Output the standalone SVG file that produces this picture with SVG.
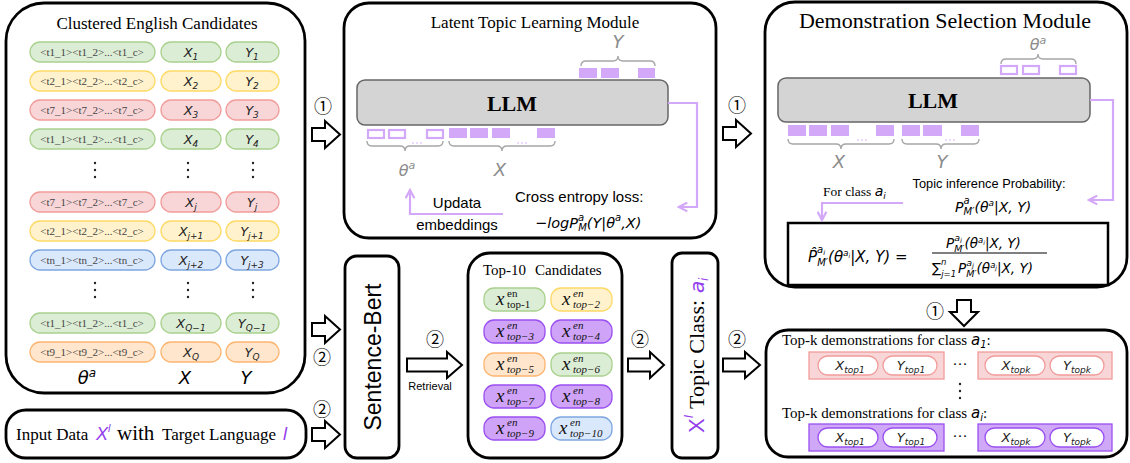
<svg xmlns="http://www.w3.org/2000/svg" width="1130" height="463" viewBox="0 0 1130 463">
<style>
.panel{fill:#fff;stroke:#000;stroke-width:2.8}
.serif{font-family:"Liberation Serif","Times New Roman",serif}
.sans{font-family:"Liberation Sans",Arial,sans-serif}
.math{font-family:"DejaVu Sans",sans-serif;font-style:italic}
.circ{font-family:"Noto Sans CJK JP","DejaVu Sans",sans-serif;font-size:18px;text-anchor:middle;fill:#000}
.g{fill:#dcedd5;stroke:#a9d18e;stroke-width:1.3}
.y{fill:#fff2cc;stroke:#ffd966;stroke-width:1.3}
.p{fill:#f8d6d8;stroke:#f19c99;stroke-width:1.3}
.b{fill:#dae8fc;stroke:#7ea6e0;stroke-width:1.3}
.o{fill:#ffe6cc;stroke:#ffb570;stroke-width:1.3}
.v{fill:#cfa3f7;stroke:#9a4ff0;stroke-width:1.3}
.tk{font-family:"Liberation Serif",serif;font-size:11px;fill:#444;text-anchor:middle}
.mx{font-family:"DejaVu Sans",sans-serif;font-style:italic;font-size:13px;fill:#222;text-anchor:middle}
.sb{font-size:9px}
.llm{fill:#d4d4d4;stroke:#666;stroke-width:1.5}
.llmt{font-family:"Liberation Serif",serif;font-weight:bold;font-size:22px;text-anchor:middle}
.sq{fill:#d4a8f8}
.hsq{fill:#fff;stroke:#d4a8f8;stroke-width:2.2}
.dot{fill:#d4a8f8}
.brace{fill:none;stroke:#a6a6a6;stroke-width:1.4}
.grey{font-family:"DejaVu Sans",sans-serif;font-style:italic;fill:#8c8c8c;text-anchor:middle}
.conn{fill:none;stroke:#d4a8f8;stroke-width:2.2}
.barrow{fill:#fff;stroke:#000;stroke-width:2}
.xi{font-family:"Liberation Serif",serif;font-style:italic;font-size:19px;fill:#111}
.sup{font-family:"Liberation Serif",serif;font-style:italic;font-size:11px;fill:#111}
.up{font-style:normal}
.pur{fill:#9340ec}
.wp{fill:#fff;stroke-width:1.3}
</style>
<defs>
<marker id="ah" viewBox="0 0 10 10" refX="8.5" refY="5" markerWidth="11" markerHeight="11" markerUnits="userSpaceOnUse" orient="auto">
<path d="M1,1 L8.5,5 L1,9" fill="none" stroke="#d4a8f8" stroke-width="2"/>
</marker>
<path id="arr" d="M0,7 H13 V0 L28,13.5 L13,27 V20 H0 Z"/>
</defs>

<!-- Left panel -->
<g id="clustered-candidates">
<rect class="panel" x="6" y="3" width="299" height="390" rx="38"/>
<text class="serif" x="157" y="29" font-size="17" text-anchor="middle">Clustered English Candidates</text>
<g>
<rect class="g" x="30" y="42" width="125" height="20" rx="10"/><rect class="g" x="161" y="42" width="60" height="20" rx="10"/><rect class="g" x="226" y="42" width="53" height="20" rx="10"/>
<text class="tk" x="92" y="56">&lt;t1_1&gt;&lt;t1_2&gt;...&lt;t1_c&gt;</text><text class="mx" x="191" y="57">X<tspan class="sb" dy="3">1</tspan></text><text class="mx" x="252" y="57">Y<tspan class="sb" dy="3">1</tspan></text>
<rect class="y" x="30" y="71" width="125" height="20" rx="10"/><rect class="y" x="161" y="71" width="60" height="20" rx="10"/><rect class="y" x="226" y="71" width="53" height="20" rx="10"/>
<text class="tk" x="92" y="85">&lt;t2_1&gt;&lt;t2_2&gt;...&lt;t2_c&gt;</text><text class="mx" x="191" y="86">X<tspan class="sb" dy="3">2</tspan></text><text class="mx" x="252" y="86">Y<tspan class="sb" dy="3">2</tspan></text>
<rect class="p" x="30" y="100" width="125" height="20" rx="10"/><rect class="p" x="161" y="100" width="60" height="20" rx="10"/><rect class="p" x="226" y="100" width="53" height="20" rx="10"/>
<text class="tk" x="92" y="114">&lt;t7_1&gt;&lt;t7_2&gt;...&lt;t7_c&gt;</text><text class="mx" x="191" y="115">X<tspan class="sb" dy="3">3</tspan></text><text class="mx" x="252" y="115">Y<tspan class="sb" dy="3">3</tspan></text>
<rect class="g" x="30" y="129" width="125" height="20" rx="10"/><rect class="g" x="161" y="129" width="60" height="20" rx="10"/><rect class="g" x="226" y="129" width="53" height="20" rx="10"/>
<text class="tk" x="92" y="143">&lt;t1_1&gt;&lt;t1_2&gt;...&lt;t1_c&gt;</text><text class="mx" x="191" y="144">X<tspan class="sb" dy="3">4</tspan></text><text class="mx" x="252" y="144">Y<tspan class="sb" dy="3">4</tspan></text>
<g fill="#222"><circle cx="95" cy="163" r="1.2"/><circle cx="95" cy="170" r="1.2"/><circle cx="95" cy="177" r="1.2"/><circle cx="188" cy="163" r="1.2"/><circle cx="188" cy="170" r="1.2"/><circle cx="188" cy="177" r="1.2"/><circle cx="253" cy="163" r="1.2"/><circle cx="253" cy="170" r="1.2"/><circle cx="253" cy="177" r="1.2"/></g>
<rect class="p" x="30" y="192" width="125" height="20" rx="10"/><rect class="p" x="161" y="192" width="60" height="20" rx="10"/><rect class="p" x="226" y="192" width="53" height="20" rx="10"/>
<text class="tk" x="92" y="206">&lt;t7_1&gt;&lt;t7_2&gt;...&lt;t7_c&gt;</text><text class="mx" x="191" y="207">X<tspan class="sb" dy="3">j</tspan></text><text class="mx" x="252" y="207">Y<tspan class="sb" dy="3">j</tspan></text>
<rect class="y" x="30" y="221" width="125" height="20" rx="10"/><rect class="y" x="161" y="221" width="60" height="20" rx="10"/><rect class="y" x="226" y="221" width="53" height="20" rx="10"/>
<text class="tk" x="92" y="235">&lt;t2_1&gt;&lt;t2_2&gt;...&lt;t2_c&gt;</text><text class="mx" x="191" y="236">X<tspan class="sb" dy="3">j+1</tspan></text><text class="mx" x="252" y="236">Y<tspan class="sb" dy="3">j+1</tspan></text>
<rect class="b" x="30" y="250" width="125" height="20" rx="10"/><rect class="b" x="161" y="250" width="60" height="20" rx="10"/><rect class="b" x="226" y="250" width="53" height="20" rx="10"/>
<text class="tk" x="92" y="264">&lt;tn_1&gt;&lt;tn_2&gt;...&lt;tn_c&gt;</text><text class="mx" x="191" y="265">X<tspan class="sb" dy="3">j+2</tspan></text><text class="mx" x="252" y="265">Y<tspan class="sb" dy="3">j+3</tspan></text>
<g fill="#222"><circle cx="95" cy="283" r="1.2"/><circle cx="95" cy="290" r="1.2"/><circle cx="95" cy="297" r="1.2"/><circle cx="188" cy="283" r="1.2"/><circle cx="188" cy="290" r="1.2"/><circle cx="188" cy="297" r="1.2"/><circle cx="253" cy="283" r="1.2"/><circle cx="253" cy="290" r="1.2"/><circle cx="253" cy="297" r="1.2"/></g>
<rect class="g" x="30" y="313" width="125" height="20" rx="10"/><rect class="g" x="161" y="313" width="60" height="20" rx="10"/><rect class="g" x="226" y="313" width="53" height="20" rx="10"/>
<text class="tk" x="92" y="327">&lt;t1_1&gt;&lt;t1_2&gt;...&lt;t1_c&gt;</text><text class="mx" x="191" y="328">X<tspan class="sb" dy="3">Q−1</tspan></text><text class="mx" x="252" y="328">Y<tspan class="sb" dy="3">Q−1</tspan></text>
<rect class="o" x="30" y="342" width="125" height="20" rx="10"/><rect class="o" x="161" y="342" width="60" height="20" rx="10"/><rect class="o" x="226" y="342" width="53" height="20" rx="10"/>
<text class="tk" x="92" y="356">&lt;t9_1&gt;&lt;t9_2&gt;...&lt;t9_c&gt;</text><text class="mx" x="191" y="357">X<tspan class="sb" dy="3">Q</tspan></text><text class="mx" x="252" y="357">Y<tspan class="sb" dy="3">Q</tspan></text>
</g>
<text class="math" x="87" y="384" font-size="18" text-anchor="middle">θ<tspan font-size="12" dy="-7">a</tspan></text>
<text class="math" x="185" y="384" font-size="18" text-anchor="middle">X</text>
<text class="math" x="246" y="384" font-size="18" text-anchor="middle">Y</text>
</g>

<!-- Input data -->
<g id="input-data">
<rect class="panel" x="6" y="410" width="300" height="48" rx="20"/>
<text class="serif" x="16" y="440" font-size="17">Input Data</text>
<text class="sans pur" x="96" y="440" font-size="18" font-style="italic">X</text>
<text class="sans pur" x="108" y="432" font-size="11" font-style="italic">l</text>
<text class="serif" x="117" y="440" font-size="21">with</text>
<text class="serif" x="162" y="440" font-size="17">Target Language</text>
<text class="sans pur" x="283" y="440" font-size="18" font-style="italic">l</text>
</g>

<!-- Latent Topic Learning Module -->
<g id="latent-topic-module">
<rect class="panel" x="344" y="3" width="372" height="235" rx="25"/>
<text class="serif" x="535" y="28" font-size="17" text-anchor="middle">Latent Topic Learning Module</text>
<text class="grey" x="618" y="48" font-size="18">Y</text>
<path class="brace" d="M581,66 Q581,61 586,61 H613 Q618,61 618,56 Q618,61 623,61 H650 Q655,61 655,66"/>
<rect class="sq" x="579" y="68" width="18" height="10"/><rect class="sq" x="601" y="68" width="18" height="10"/><rect class="sq" x="638" y="68" width="17" height="10"/>
<circle class="dot" cx="623" cy="82" r="0.8"/><circle class="dot" cx="627" cy="82" r="0.8"/><circle class="dot" cx="631" cy="82" r="0.8"/>
<rect class="llm" x="357" y="80" width="311" height="45" rx="8"/>
<text class="llmt" x="512" y="111">LLM</text>
<rect class="hsq" x="368" y="130" width="16" height="8"/><rect class="hsq" x="389" y="130" width="16" height="8"/><rect class="hsq" x="427" y="130" width="16" height="8"/>
<circle class="dot" cx="413" cy="143" r="0.8"/><circle class="dot" cx="417" cy="143" r="0.8"/><circle class="dot" cx="421" cy="143" r="0.8"/>
<rect class="sq" x="449" y="128" width="18" height="10"/><rect class="sq" x="470" y="128" width="18" height="10"/><rect class="sq" x="492" y="128" width="18" height="10"/><rect class="sq" x="537" y="128" width="18" height="10"/>
<circle class="dot" cx="518" cy="143" r="0.8"/><circle class="dot" cx="522" cy="143" r="0.8"/><circle class="dot" cx="526" cy="143" r="0.8"/>
<path class="brace" d="M367,141 Q367,146 372,146 H400 Q405,146 405,151 Q405,146 410,146 H438 Q443,146 443,141"/>
<path class="brace" d="M449,141 Q449,146 454,146 H497 Q502,146 502,151 Q502,146 507,146 H550 Q555,146 555,141"/>
<text class="grey" x="407" y="176" font-size="16">θ<tspan font-size="11" dy="-7">a</tspan></text>
<text class="grey" x="500" y="176" font-size="18">X</text>
<text class="sans" x="515" y="202" font-size="15">Cross entropy loss:</text>
<text class="math" x="535" y="228" font-size="14.5">−logP<tspan font-size="10" dy="-7">a</tspan><tspan font-size="10" dx="-6" dy="10">M</tspan><tspan dy="-3">(Y|θ</tspan><tspan font-size="10" dy="-7">a</tspan><tspan dy="7">,X)</tspan></text>
<text class="sans" x="457" y="208" font-size="15" text-anchor="middle">Updata</text>
<text class="sans" x="457" y="230" font-size="15" text-anchor="middle">embeddings</text>
</g>

<!-- Demonstration Selection Module -->
<g id="demo-selection-module">
<rect class="panel" x="765" y="2" width="362" height="285" rx="30"/>
<text class="serif" x="945" y="28" font-size="22" text-anchor="middle">Demonstration Selection Module</text>
<text class="grey" x="1038" y="50" font-size="16">θ<tspan font-size="11" dy="-6">a</tspan></text>
<path class="brace" d="M1001,64 Q1001,59 1006,59 H1033 Q1038,59 1038,54 Q1038,59 1043,59 H1071 Q1076,59 1076,64"/>
<rect class="hsq" x="1001" y="66" width="16" height="8"/><rect class="hsq" x="1023" y="66" width="16" height="8"/><rect class="hsq" x="1060" y="66" width="16" height="8"/>
<circle class="dot" cx="1044" cy="79" r="0.8"/><circle class="dot" cx="1048" cy="79" r="0.8"/><circle class="dot" cx="1052" cy="79" r="0.8"/>
<rect class="llm" x="778" y="78" width="312" height="44" rx="8"/>
<text class="llmt" x="933" y="108">LLM</text>
<rect class="sq" x="788" y="125" width="18" height="11"/><rect class="sq" x="809" y="125" width="18" height="11"/><rect class="sq" x="831" y="125" width="18" height="11"/><rect class="sq" x="876" y="125" width="18" height="11"/>
<circle class="dot" cx="858" cy="140" r="0.8"/><circle class="dot" cx="862" cy="140" r="0.8"/><circle class="dot" cx="866" cy="140" r="0.8"/>
<rect class="sq" x="902" y="125" width="18" height="11"/><rect class="sq" x="923" y="125" width="19" height="11"/><rect class="sq" x="961" y="125" width="18" height="11"/>
<circle class="dot" cx="946" cy="140" r="0.8"/><circle class="dot" cx="950" cy="140" r="0.8"/><circle class="dot" cx="954" cy="140" r="0.8"/>
<path class="brace" d="M788,139 Q788,144 793,144 H836 Q841,144 841,149 Q841,144 846,144 H889 Q894,144 894,139"/>
<path class="brace" d="M902,139 Q902,144 907,144 H936 Q941,144 941,149 Q941,144 946,144 H974 Q979,144 979,139"/>
<text class="grey" x="839" y="168" font-size="18">X</text>
<text class="grey" x="942" y="168" font-size="18">Y</text>
<text class="sans" x="989" y="188" font-size="12.8" text-anchor="middle">Topic inference Probability:</text>
<text class="math" x="955" y="212" font-size="14">P<tspan font-size="10" dy="-8">a</tspan><tspan font-size="10" dx="-6" dy="11">M′</tspan><tspan dy="-3">(θ</tspan><tspan font-size="9" dy="-6">a</tspan><tspan dy="6">|X, Y)</tspan></text>
<text class="serif" x="823" y="196" font-size="13.5">For class <tspan class="math" font-size="14">a</tspan><tspan class="math" font-size="9" dy="3">i</tspan></text>
<rect x="788" y="223" width="320" height="62" fill="#fff" stroke="#000" stroke-width="2.5"/>
<text class="math" x="808" y="262" font-size="15">P̂<tspan font-size="10" dy="-9">a</tspan><tspan font-size="7" dy="2">i</tspan><tspan font-size="10" dx="-8" dy="11">M′</tspan><tspan dy="-4">(θ</tspan><tspan font-size="9" dy="-6">a</tspan><tspan font-size="6" dy="2">i</tspan><tspan dy="4">|X, Y) </tspan><tspan font-style="normal">=</tspan></text>
<text class="math" x="946" y="248" font-size="13.5">P<tspan font-size="9.5" dy="-7">a</tspan><tspan font-size="7" dy="2">i</tspan><tspan font-size="9.5" dx="-7.8" dy="9">M′</tspan><tspan dy="-4">(θ</tspan><tspan font-size="8.5" dy="-5">a</tspan><tspan font-size="6" dy="2">i</tspan><tspan dy="3">|X, Y)</tspan></text>
<line x1="932" y1="253" x2="1047" y2="253" stroke="#000" stroke-width="1"/>
<text class="math" x="932" y="273" font-size="13.5"><tspan font-style="normal">∑</tspan><tspan font-size="8.5" dy="-8">n</tspan><tspan font-size="8.5" dx="-5.3" dy="12">j=1</tspan><tspan dx="2" dy="-4">P</tspan><tspan font-size="9.5" dy="-7">a</tspan><tspan font-size="7" dy="2">j</tspan><tspan font-size="9.5" dx="-7.8" dy="9">M′</tspan><tspan dy="-4">(θ</tspan><tspan font-size="8.5" dy="-5">a</tspan><tspan font-size="6" dy="2">j</tspan><tspan dy="3">|X, Y)</tspan></text>
</g>

<!-- Sentence-Bert -->
<g id="sentence-bert">
<rect class="panel" x="345" y="256" width="54" height="202" rx="12"/>
<text class="sans" transform="translate(373,357) rotate(-90)" x="0" y="8" font-size="23" text-anchor="middle">Sentence-Bert</text>
</g>

<!-- Top-10 Candidates -->
<g id="top10-candidates">
<rect class="panel" x="468" y="253" width="154" height="205" rx="22"/>
<text class="serif" x="483" y="275" font-size="15">Top-10</text>
<text class="serif" x="535" y="275" font-size="15">Candidates</text>
<rect class="g" x="484" y="288" width="61" height="23" rx="10"/>
<text class="xi" x="496" y="305">x</text><text class="sup up" x="507" y="297">en</text><text class="sup up" x="507" y="308">top-1</text>
<rect class="y" x="551" y="288" width="61" height="23" rx="10"/>
<text class="xi" x="562" y="305">x</text><text class="sup" x="573" y="297">en</text><text class="sup" x="573" y="308">top−2</text>
<rect class="v" x="484" y="320" width="61" height="23" rx="10"/>
<text class="xi" x="496" y="337">x</text><text class="sup" x="507" y="329">en</text><text class="sup" x="507" y="340">top−3</text>
<rect class="v" x="551" y="320" width="61" height="23" rx="10"/>
<text class="xi" x="562" y="337">x</text><text class="sup" x="573" y="329">en</text><text class="sup" x="573" y="340">top−4</text>
<rect class="o" x="484" y="353" width="61" height="23" rx="10"/>
<text class="xi" x="496" y="370">x</text><text class="sup" x="507" y="362">en</text><text class="sup" x="507" y="373">top−5</text>
<rect class="g" x="551" y="353" width="61" height="23" rx="10"/>
<text class="xi" x="562" y="370">x</text><text class="sup" x="573" y="362">en</text><text class="sup" x="573" y="373">top−6</text>
<rect class="v" x="484" y="385" width="61" height="23" rx="10"/>
<text class="xi" x="496" y="402">x</text><text class="sup" x="507" y="394">en</text><text class="sup" x="507" y="405">top−7</text>
<rect class="v" x="551" y="385" width="61" height="23" rx="10"/>
<text class="xi" x="562" y="402">x</text><text class="sup" x="573" y="394">en</text><text class="sup" x="573" y="405">top−8</text>
<rect class="v" x="484" y="417" width="61" height="23" rx="10"/>
<text class="xi" x="496" y="434">x</text><text class="sup" x="507" y="426">en</text><text class="sup" x="507" y="437">top−9</text>
<rect class="b" x="551" y="417" width="61" height="23" rx="10"/>
<text class="xi" x="559" y="434">x</text><text class="sup" x="570" y="426">en</text><text class="sup" x="570" y="437">top−10</text>
</g>

<!-- Topic class -->
<g id="topic-class">
<rect class="panel" x="672" y="253" width="46" height="205" rx="10"/>
<g transform="translate(697,352) rotate(-90)">
<text class="sans pur" x="-81" y="7" font-size="22">X</text>
<text class="sans pur" x="-66" y="-4" font-size="12" font-style="italic">l</text>
<text class="serif" x="-57" y="7" font-size="22">Topic Class:</text>
<text class="math pur" x="59" y="7" font-size="20">a</text>
<text class="math pur" x="71" y="11" font-size="12">i</text>
</g>
</g>

<!-- Top-k demonstrations -->
<g id="topk-demonstrations">
<rect class="panel" x="766" y="330" width="361" height="127" rx="22"/>
<text class="serif" x="782" y="345" font-size="15">Top-k demonstrations for class <tspan class="math" font-size="15">a</tspan><tspan class="math" font-size="10" dy="3">1</tspan><tspan dy="-3">:</tspan></text>
<rect x="809" y="352" width="135" height="27" fill="#f8d6d8" stroke="#f19c99" stroke-width="1.3"/>
<rect class="wp" x="818" y="356" width="60" height="19" rx="9.5" stroke="#f19c99"/>
<rect class="wp" x="883" y="356" width="54" height="19" rx="9.5" stroke="#f19c99"/>
<text class="mx" x="850" y="370">X<tspan class="sb" dy="3">top1</tspan></text>
<text class="mx" x="911" y="370">Y<tspan class="sb" dy="3">top1</tspan></text>
<text class="serif" x="960" y="369" font-size="15" text-anchor="middle">···</text>
<rect x="978" y="352" width="134" height="27" fill="#f8d6d8" stroke="#f19c99" stroke-width="1.3"/>
<rect class="wp" x="985" y="356" width="60" height="19" rx="9.5" stroke="#f19c99"/>
<rect class="wp" x="1050" y="356" width="54" height="19" rx="9.5" stroke="#f19c99"/>
<text class="mx" x="1016" y="370">X<tspan class="sb" dy="3">topk</tspan></text>
<text class="mx" x="1077" y="370">Y<tspan class="sb" dy="3">topk</tspan></text>
<g fill="#222"><circle cx="960" cy="384" r="1.2"/><circle cx="960" cy="391" r="1.2"/><circle cx="960" cy="398" r="1.2"/></g>
<text class="serif" x="782" y="418" font-size="15">Top-k demonstrations for class <tspan class="math" font-size="15">a</tspan><tspan class="math" font-size="10" dy="3">i</tspan><tspan dy="-3">:</tspan></text>
<rect x="809" y="424" width="135" height="27" fill="#cfa8f8" stroke="#9a4ff0" stroke-width="1.3"/>
<rect class="wp" x="818" y="428" width="60" height="19" rx="9.5" stroke="#9a4ff0"/>
<rect class="wp" x="883" y="428" width="54" height="19" rx="9.5" stroke="#9a4ff0"/>
<text class="mx" x="850" y="442">X<tspan class="sb" dy="3">top1</tspan></text>
<text class="mx" x="911" y="442">Y<tspan class="sb" dy="3">top1</tspan></text>
<text class="serif" x="960" y="441" font-size="15" text-anchor="middle">···</text>
<rect x="978" y="424" width="134" height="27" fill="#cfa8f8" stroke="#9a4ff0" stroke-width="1.3"/>
<rect class="wp" x="985" y="428" width="60" height="19" rx="9.5" stroke="#9a4ff0"/>
<rect class="wp" x="1050" y="428" width="54" height="19" rx="9.5" stroke="#9a4ff0"/>
<text class="mx" x="1016" y="442">X<tspan class="sb" dy="3">topk</tspan></text>
<text class="mx" x="1077" y="442">Y<tspan class="sb" dy="3">topk</tspan></text>
</g>

<!-- Connectors -->
<g id="connectors">
<path class="conn" d="M668,103 H697 V207 H679" marker-end="url(#ah)"/>
<path class="conn" d="M503,214 H410 V190" marker-end="url(#ah)"/>
<path class="conn" d="M1090,100 H1113 V200 H1089" marker-end="url(#ah)"/>
<path class="conn" d="M903,203 H822 V220" marker-end="url(#ah)"/>
<use href="#arr" class="barrow" transform="translate(312,121)"/>
<text class="circ" x="323" y="113">①</text>
<use href="#arr" class="barrow" transform="translate(723,120)"/>
<text class="circ" x="737" y="112">①</text>
<use href="#arr" class="barrow" transform="translate(312,316)"/>
<text class="circ" x="322" y="364">②</text>
<use href="#arr" class="barrow" transform="translate(312,421)"/>
<text class="circ" x="322" y="416">②</text>
<path class="barrow" d="M407,358.5 H447 V352 L462,365 L447,378 V371.5 H407 Z"/>
<text class="circ" x="435" y="346">②</text>
<text class="sans" x="430" y="390" font-size="11" text-anchor="middle">Retrieval</text>
<path class="barrow" d="M628,358.5 H650 V352 L664,365 L650,378 V371.5 H628 Z"/>
<text class="circ" x="640" y="346">②</text>
<path class="barrow" d="M723,358.5 H745 V352 L760,365 L745,378 V371.5 H723 Z"/>
<text class="circ" x="737" y="346">②</text>
<path class="barrow" d="M957,300 H971 V312 H978 L964,326 L950,312 H957 Z"/>
<text class="circ" x="935" y="318">①</text>
</g>
</svg>
